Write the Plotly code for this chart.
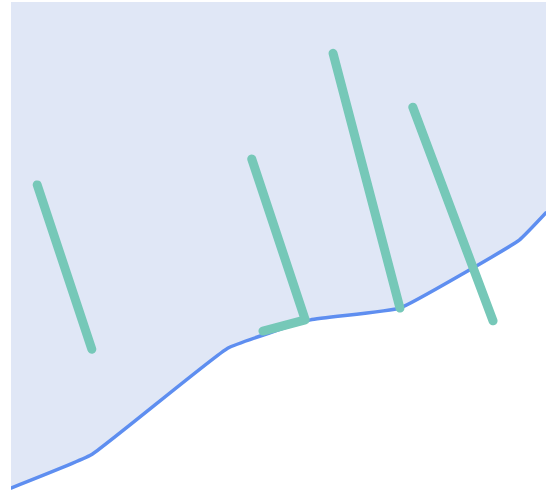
import plotly.graph_objects as go

# Boundary line values
line_x = [0.0, 1.5, 4.05, 5.6, 7.27, 9.5, 10.0]
line_y = [0.06, 0.74, 2.92, 3.5, 3.74, 5.13, 5.69]

# Green segments (None separates segments)
seg_x = [0.49, 1.51, None, 4.5, 5.5, 4.71, None, 6.02, 7.27, None, 7.51, 9.01]
seg_y = [6.26, 2.9, None, 6.79, 3.5, 3.27, None, 8.95, 3.74, None, 7.85, 3.48]

fig = go.Figure()
fig.add_trace(go.Scatter(
    x=line_x, y=line_y, mode="lines",
    line=dict(color="#5E8EF0", width=3.5, shape="spline", smoothing=0.3),
    fill="tozeroy", fillcolor="white", hoverinfo="skip",
))
fig.add_trace(go.Scatter(
    x=seg_x, y=seg_y, mode="lines",
    line=dict(color="#76C8B8", width=9),
    connectgaps=False,
))
fig.update_layout(
    width=554, height=493,
    margin=dict(l=11, r=8, t=2, b=2),
    paper_bgcolor="white", plot_bgcolor="#E0E7F6",
    showlegend=False,
    xaxis=dict(range=[0, 10], visible=False, showgrid=False, zeroline=False),
    yaxis=dict(range=[0, 10], visible=False, showgrid=False, zeroline=False),
)
post = """
document.body.style.margin = '0';
var st = document.createElement('style');
st.innerHTML = '.scatterlayer path.js-line { stroke-linecap: round; stroke-linejoin: round; }';
document.head.appendChild(st);
"""
fig.write_html("out.html", post_script=post, config={"displayModeBar": False})
